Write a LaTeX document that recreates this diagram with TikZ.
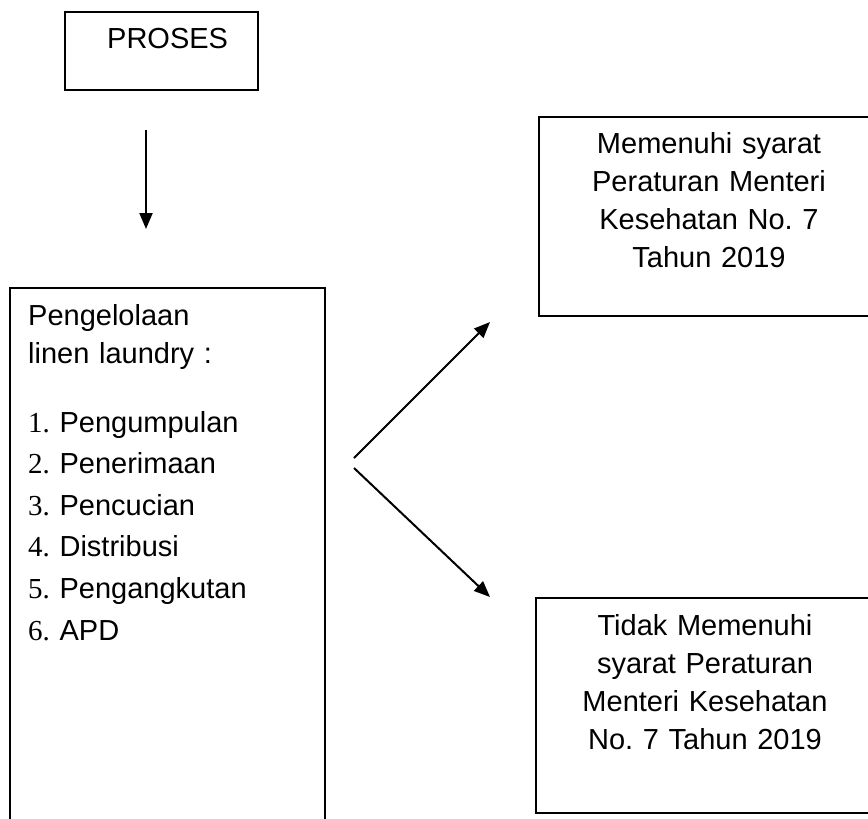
\documentclass[tikz,border=0pt]{standalone}
\usepackage{fontspec}
\setmainfont{Liberation Sans}
\newfontfamily\numserif{Liberation Serif}
\usetikzlibrary{arrows.meta}
\frenchspacing
\tikzset{
  box/.style={draw=black, line width=2pt, rectangle, inner sep=0pt, anchor=north west},
  txt/.style={inner sep=0pt, font=\fontsize{29}{38}\selectfont},
  listtxt/.style={inner sep=0pt, font=\fontsize{29}{41.6}\selectfont, text width=290pt, align=left, anchor=base west},
  conn/.style={line width=2pt, -{Triangle[length=16pt,width=13pt]}}
}
\begin{document}
\begin{tikzpicture}[x=1pt,y=-1pt]
\clip (0,0) rectangle (868,819);
\fill[white] (0,0) rectangle (868,819);
% boxes
\node[box, minimum width=193pt, minimum height=78pt] (proses) at (64,11) {};
\node[txt, anchor=base west] (prosestxt) at (107,48) {PROSES};
\node[box, minimum width=315pt, minimum height=560pt] (main) at (9,287) {};
\node[box, minimum width=360pt, minimum height=199pt] (yes) at (538,116) {};
\node[box, minimum width=360pt, minimum height=215pt] (no) at (535,597) {};
% texts
\node[txt, text width=300pt, align=left, anchor=base west] (head) at (28,325) {Pengelolaan\\linen laundry :};
\node[listtxt] (list) at (28,432) {{\numserif 1.} Pengumpulan\\{\numserif 2.} Penerimaan\\{\numserif 3.} Pencucian\\{\numserif 4.} Distribusi\\{\numserif 5.} Pengangkutan\\{\numserif 6.} APD};
\node[txt, text width=300pt, align=center, anchor=base] (yestxt) at (709,153) {Memenuhi syarat\\Peraturan Menteri\\Kesehatan No. 7\\Tahun 2019};
\node[txt, text width=300pt, align=center, anchor=base] (notxt) at (705,635) {Tidak Memenuhi\\syarat Peraturan\\Menteri Kesehatan\\No. 7 Tahun 2019};
% connector ends
\coordinate (d1) at (146,130);
\coordinate (d2) at (146,229);
\coordinate (s1) at (354,458);
\coordinate (t1) at (490,322);
\coordinate (s2) at (354,468);
\coordinate (t2) at (490,597);
\draw[conn] (d1) -- (d2);
\draw[conn] (s1) -- (t1);
\draw[conn] (s2) -- (t2);
\end{tikzpicture}
\end{document}
